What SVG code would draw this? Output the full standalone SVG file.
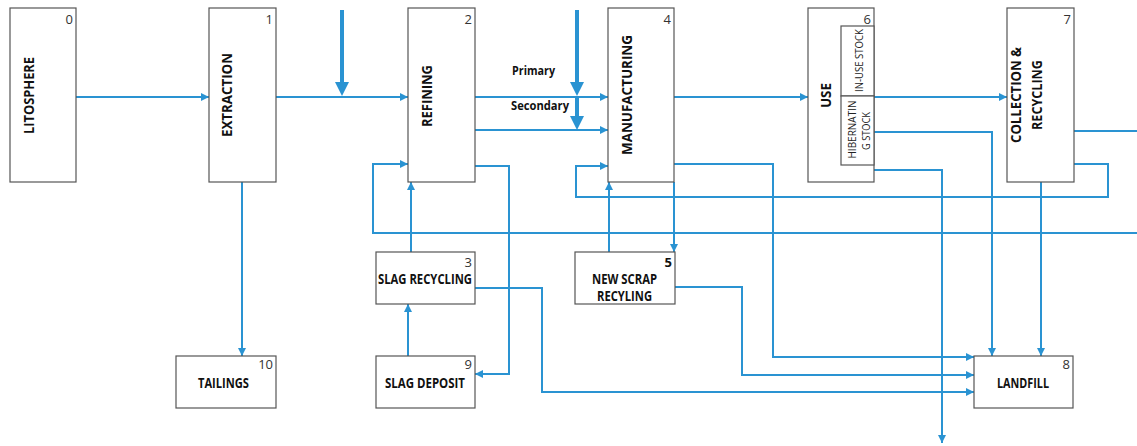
<svg xmlns="http://www.w3.org/2000/svg" width="1137" height="446" viewBox="0 0 1137 446">
<style>
.box{fill:#fff;stroke:#555;stroke-width:1.2}
.lbl{font-family:"Open Sans","Liberation Sans",sans-serif;font-weight:bold;font-size:14.5px;fill:#111;text-anchor:middle}
.num{font-family:"Open Sans","Liberation Sans",sans-serif;font-size:13px;fill:#333;text-anchor:end}
.sub{font-family:"Open Sans","Liberation Sans",sans-serif;font-size:11.5px;fill:#222;text-anchor:middle}
.c{fill:none;stroke:#2a93d2;stroke-width:2}
.ca{fill:none;stroke:#2a93d2;stroke-width:2;marker-end:url(#ah)}
.big{fill:none;stroke:#2a93d2;stroke-width:4}
.bh{fill:#2a93d2}
</style>
<defs>
<marker id="ah" markerUnits="userSpaceOnUse" markerWidth="9" markerHeight="9" refX="8" refY="4" orient="auto">
<path d="M0,0 L8,4 L0,8 z" fill="#2a93d2"/>
</marker>
</defs>
<g id="connectors">
<path class="ca" d="M76,97 H209"/>
<path class="ca" d="M276,97 H408"/>
<path class="ca" d="M475,97 H608"/>
<path class="ca" d="M475,130 H608"/>
<path class="ca" d="M475,166 H509 V374 H475"/>
<path class="ca" d="M242,182 V356"/>
<path class="ca" d="M408,356 V304"/>
<path class="ca" d="M411,252 V182"/>
<path class="ca" d="M475,288 H542 V392 H974"/>
<path class="ca" d="M674,97 H808"/>
<path class="ca" d="M674,182 V252"/>
<path class="ca" d="M609,252 V182"/>
<path class="ca" d="M674,164 H773 V357 H974"/>
<path class="ca" d="M675,287 H742 V375 H974"/>
<path class="ca" d="M874,97 H1007"/>
<path class="ca" d="M874,132 H992 V356"/>
<path class="ca" d="M874,170 H942 V443"/>
<path class="c" d="M1074,131 H1137"/>
<path class="ca" d="M1074,164 H1108 V197 H576 V166 H608"/>
<path class="ca" d="M1137,233 H373 V164 H408"/>
<path class="ca" d="M1041,182 V356"/>
<path class="big" d="M342,10 V83"/>
<polygon class="bh" points="335,82 349,82 342,96"/>
<path class="big" d="M577,10 V83"/>
<polygon class="bh" points="570,82 584,82 577,96"/>
<path class="big" d="M577,97 V117"/>
<polygon class="bh" points="570,116 584,116 577,130"/>
<text class="lbl" x="533.5" y="75" style="font-size:13px" textLength="43" lengthAdjust="spacingAndGlyphs">Primary</text>
<text class="lbl" x="540" y="110" style="font-size:13px" textLength="58" lengthAdjust="spacingAndGlyphs">Secondary</text>
</g>
<g id="n0">
<rect class="box" x="10" y="8" width="66" height="174"/>
<text class="num" x="73" y="24">0</text>
<text class="lbl" transform="translate(28,95.5) rotate(-90)" dominant-baseline="central" textLength="77" lengthAdjust="spacingAndGlyphs">LITOSPHERE</text>
</g>
<g id="n1">
<rect class="box" x="209" y="8" width="67" height="174"/>
<text class="num" x="273" y="24">1</text>
<text class="lbl" transform="translate(226,95) rotate(-90)" dominant-baseline="central" textLength="84" lengthAdjust="spacingAndGlyphs">EXTRACTION</text>
</g>
<g id="n2">
<rect class="box" x="408" y="8" width="67" height="174"/>
<text class="num" x="472" y="24">2</text>
<text class="lbl" transform="translate(426,96) rotate(-90)" dominant-baseline="central" textLength="62" lengthAdjust="spacingAndGlyphs">REFINING</text>
</g>
<g id="n4">
<rect class="box" x="608" y="8" width="66" height="174"/>
<text class="num" x="671" y="24">4</text>
<text class="lbl" transform="translate(626,95) rotate(-90)" dominant-baseline="central" textLength="120" lengthAdjust="spacingAndGlyphs">MANUFACTURING</text>
</g>
<g id="n6">
<rect class="box" x="808" y="8" width="66" height="174"/>
<text class="num" x="871" y="24">6</text>
<text class="lbl" transform="translate(825,95.5) rotate(-90)" dominant-baseline="central" textLength="25" lengthAdjust="spacingAndGlyphs">USE</text>
<rect class="box" x="841" y="26" width="33" height="70"/>
<text class="sub" transform="translate(858,60.5) rotate(-90)" dominant-baseline="central" textLength="63" lengthAdjust="spacingAndGlyphs">IN-USE STOCK</text>
<rect class="box" x="841" y="96" width="33" height="69"/>
<text class="sub" transform="translate(851,129.5) rotate(-90)" dominant-baseline="central" textLength="58" lengthAdjust="spacingAndGlyphs">HIBERNATIN</text>
<text class="sub" transform="translate(865,131) rotate(-90)" dominant-baseline="central" textLength="38" lengthAdjust="spacingAndGlyphs">G STOCK</text>
</g>
<g id="n7">
<rect class="box" x="1007" y="8" width="67" height="174"/>
<text class="num" x="1071" y="24">7</text>
<text class="lbl" transform="translate(1015,95) rotate(-90)" dominant-baseline="central" textLength="96" lengthAdjust="spacingAndGlyphs">COLLECTION &amp;</text>
<text class="lbl" transform="translate(1036,95) rotate(-90)" dominant-baseline="central" textLength="70" lengthAdjust="spacingAndGlyphs">RECYCLING</text>
</g>
<g id="n3">
<rect class="box" x="376" y="252" width="99" height="52"/>
<text class="num" x="472" y="267">3</text>
<text class="lbl" x="425" y="284" textLength="94" lengthAdjust="spacingAndGlyphs">SLAG RECYCLING</text>
</g>
<g id="n5">
<rect class="box" x="575" y="252" width="100" height="52"/>
<text class="num" x="672" y="267" style="font-weight:bold;fill:#111">5</text>
<text class="lbl" x="624.5" y="284" textLength="65" lengthAdjust="spacingAndGlyphs">NEW SCRAP</text>
<text class="lbl" x="624.5" y="301" textLength="55" lengthAdjust="spacingAndGlyphs">RECYLING</text>
</g>
<g id="n10">
<rect class="box" x="176" y="356" width="100" height="52"/>
<text class="num" x="273" y="369">10</text>
<text class="lbl" x="223.5" y="388" textLength="51" lengthAdjust="spacingAndGlyphs">TAILINGS</text>
</g>
<g id="n9">
<rect class="box" x="376" y="356" width="99" height="52"/>
<text class="num" x="472" y="369">9</text>
<text class="lbl" x="425" y="388" textLength="80" lengthAdjust="spacingAndGlyphs">SLAG DEPOSIT</text>
</g>
<g id="n8">
<rect class="box" x="974" y="356" width="99" height="52"/>
<text class="num" x="1070" y="369">8</text>
<text class="lbl" x="1023" y="388" textLength="52" lengthAdjust="spacingAndGlyphs">LANDFILL</text>
</g>
</svg>
